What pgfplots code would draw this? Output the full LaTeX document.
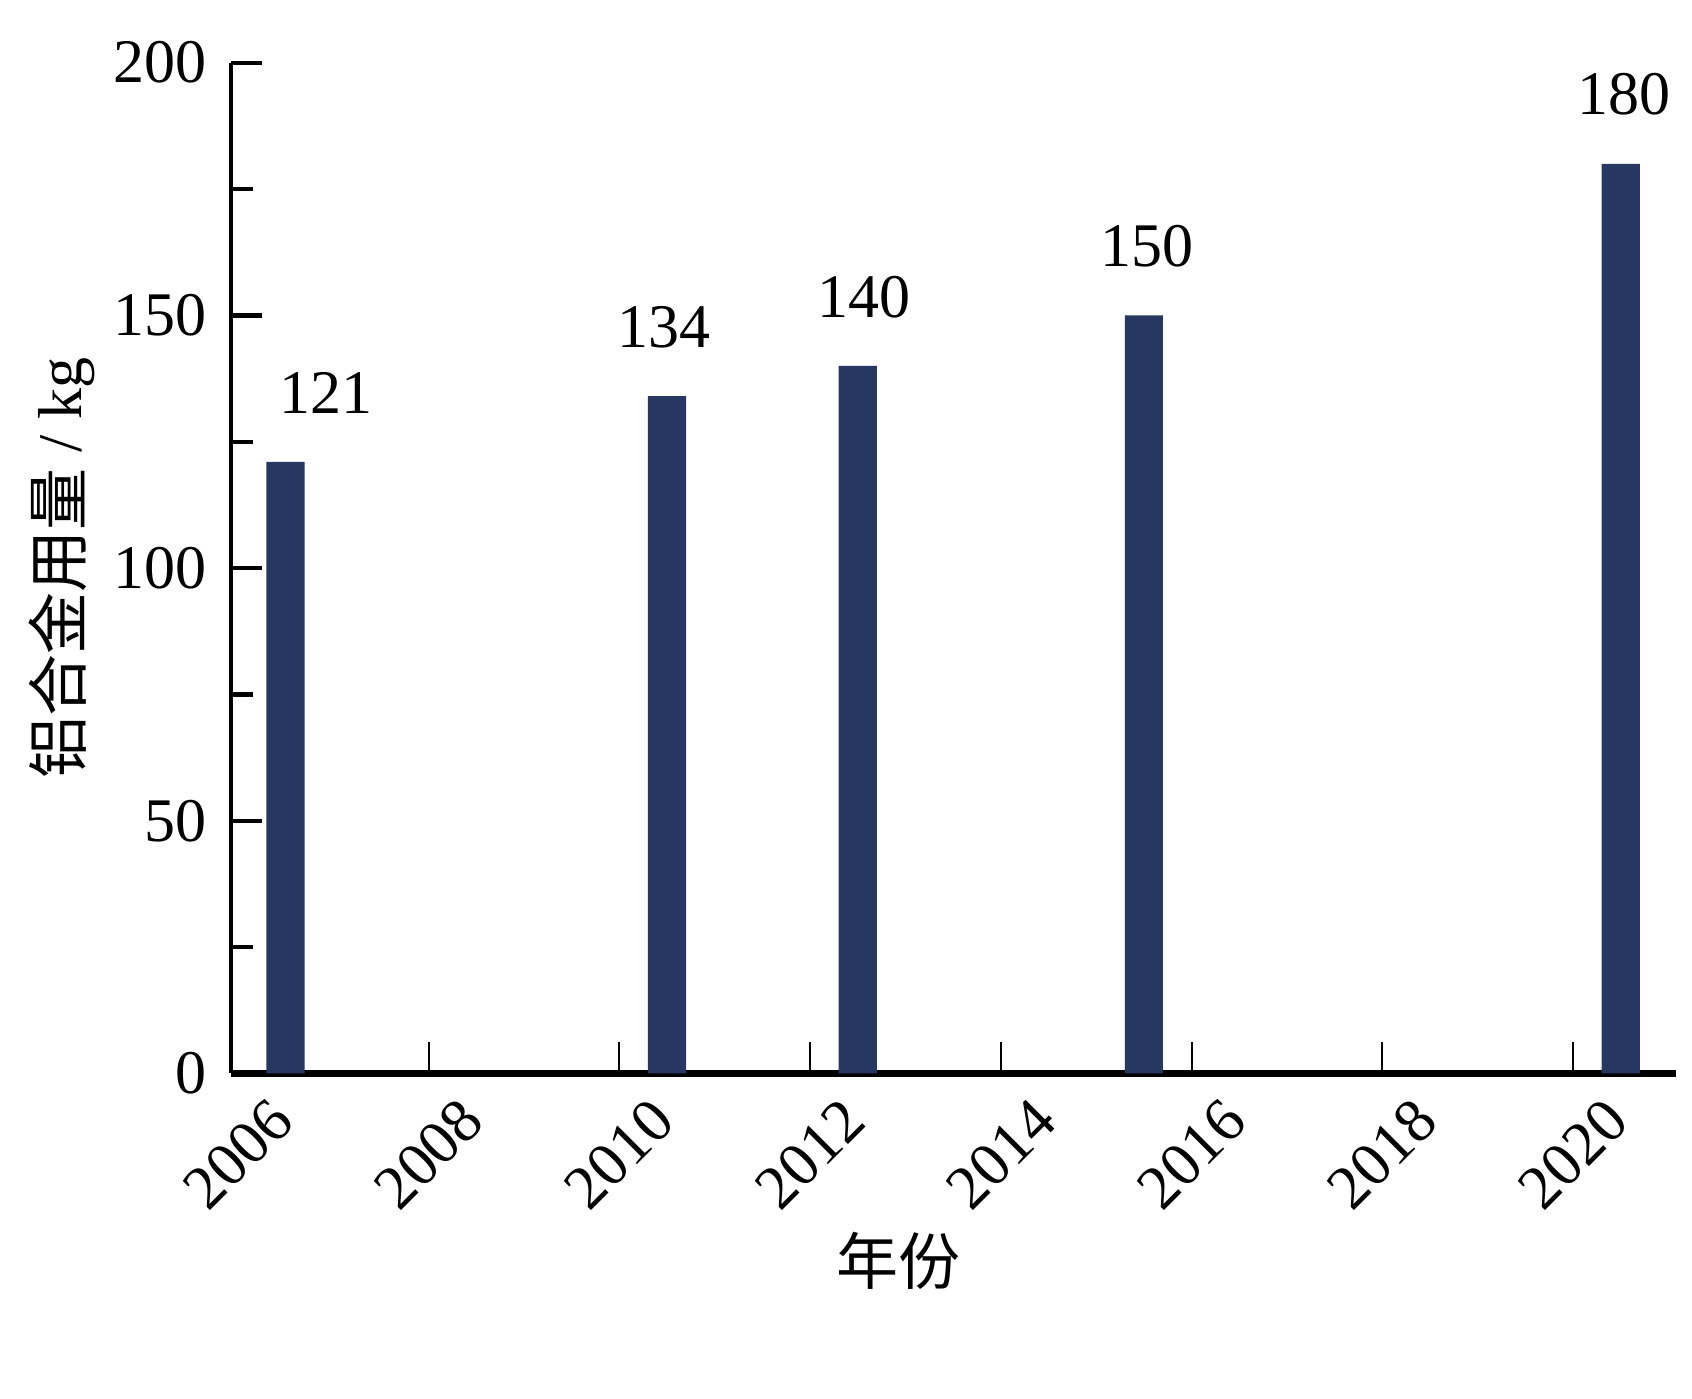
\documentclass[border=0pt]{standalone}
\usepackage{fontspec}
\setmainfont{Liberation Serif}
\newfontfamily\cjk{Noto Sans CJK SC}
\usepackage{pgfplots}
\pgfplotsset{compat=1.18}
\definecolor{barblue}{RGB}{38,56,98}

\pgfplotstableread{
x      y   dx
2006.5 121 13
2010.5 134 -1
2012.5 140 2
2015.5 150 1
2020.5 180 1
}\usage

\begin{document}
\begin{tikzpicture}
\begin{axis}[
    scale only axis,
    width=466pt, height=326pt,
    xmin=2005.93, xmax=2021.08,
    ymin=0, ymax=200,
    enlargelimits=false,
    clip=false,
    axis x line=bottom, axis y line=left,
    axis line style={-},
    x axis line style={line width=2pt},
    y axis line style={line width=1.2pt},
    tick align=inside,
    major tick length=10pt,
    minor tick length=7pt,
    xtick={2008,2010,...,2020},
    extra x ticks={2006},
    extra x tick style={major tick length=0pt},
    ytick={0,50,...,200},
    minor ytick={25,75,125,175},
    xtick style={line width=0.7pt, black},
    ytick style={line width=1.4pt, black},
    /pgf/number format/assume math mode=true,
    /pgf/number format/1000 sep={},
    ticklabel style={font=\fontsize{20}{24}\selectfont},
    xticklabel style={anchor=center, yshift=-26pt, rotate=45},
    yticklabel style={xshift=-4.5pt},
    xlabel={\cjk 年份},
    ylabel={{\cjk 铝合金用量} / kg},
    label style={font=\fontsize{20}{24}\selectfont},
    xlabel style={at={(axis description cs:0.462,-0.185)}, anchor=center},
    ylabel style={at={(axis description cs:-0.117,0.5)}, anchor=center},
  ]
  \addplot[ybar, bar width=0.4, draw=none, fill=barblue,
    nodes near coords,
    visualization depends on={\thisrow{dx} \as \dx},
    nodes near coords style={font=\fontsize{20}{24}\selectfont, anchor=south,
      xshift=\dx pt, yshift=12pt},
  ] table[x=x, y=y] {\usage};
  \path (axis description cs:-0.160,-0.322) rectangle (axis description cs:1.011,1.062);
\end{axis}
\end{tikzpicture}
\end{document}
